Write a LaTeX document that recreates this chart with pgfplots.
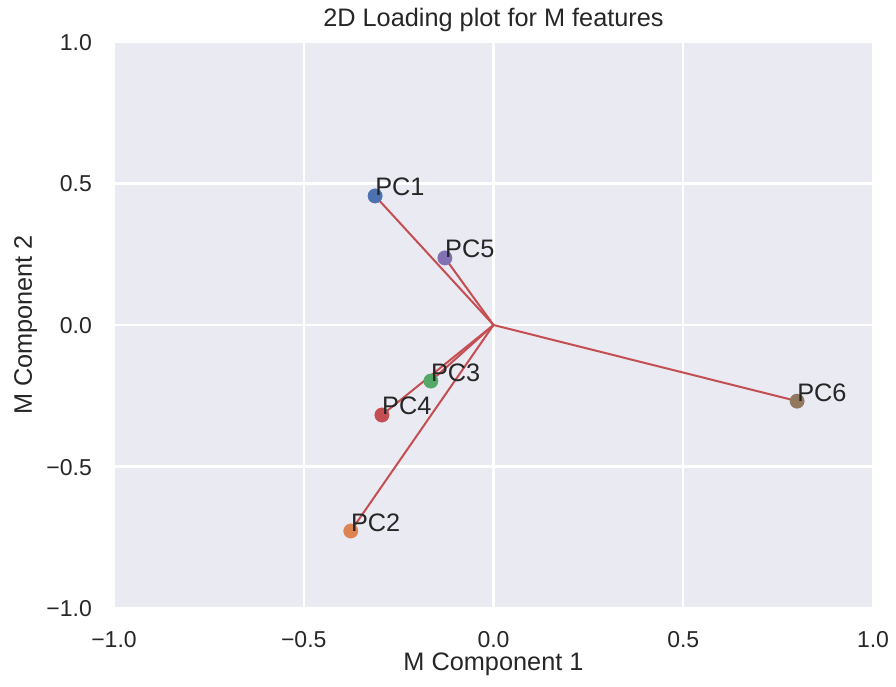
\documentclass[border=0pt]{standalone}
\usepackage{pgfplots}
\pgfplotsset{compat=1.18}
\usepackage{fontspec}
\setmainfont{Liberation Sans}
\usetikzlibrary{arrows.meta}
\definecolor{bg}{HTML}{EAEAF2}
\definecolor{txt}{HTML}{262626}
\definecolor{c0}{HTML}{4C72B0}
\definecolor{c1}{HTML}{DD8452}
\definecolor{c2}{HTML}{55A868}
\definecolor{c3}{HTML}{C44E52}
\definecolor{c4}{HTML}{8172B3}
\definecolor{c5}{HTML}{937860}
\newcommand{\lblfont}{\fontsize{25.3bp}{30bp}\selectfont}
\newcommand{\tckfont}{\fontsize{23bp}{27bp}\selectfont}
\begin{document}
\begin{tikzpicture}[every node/.style={text=txt}]
\useasboundingbox (-114bp,-79bp) rectangle (782bp,608bp);
\begin{axis}[
  at={(0,0)}, anchor=south west,
  scale only axis, width=759bp, height=566bp,
  xmin=-1, xmax=1, ymin=-1, ymax=1,
  axis background/.style={fill=bg},
  axis line style={draw=none},
  major tick length=0pt,
  grid=major, grid style={white, line width=2.2bp},
  xtick={-1,-0.5,0,0.5,1}, ytick={-1,-0.5,0,0.5,1},
  xticklabels={−1.0,−0.5,0.0,0.5,1.0},
  yticklabels={−1.0,−0.5,0.0,0.5,1.0},
  xticklabel style={font=\tckfont, anchor=base, inner sep=0pt, yshift=-39bp},
  yticklabel style={font=\tckfont, anchor=base east, inner sep=0pt, xshift=-22bp, yshift=-8.5bp},
  every axis title shift=0pt,
  title={2D Loading plot for M features},
  title style={font=\lblfont, at={([yshift=15bp]axis description cs:0.5,1)}, anchor=base, inner sep=0pt},
  xlabel={M Component 1}, ylabel={M Component 2},
  xlabel style={font=\lblfont, at={([yshift=-62bp]axis description cs:0.5,0)}, anchor=base, inner sep=0pt},
  ylabel style={font=\lblfont, at={([xshift=-82bp]axis description cs:0,0.5)}, anchor=base, inner sep=0pt, rotate=0},
  clip=false,
]
\addplot[only marks, mark=*, mark size=7.2bp, color=c0] coordinates {(-0.312,0.456)};
\addplot[only marks, mark=*, mark size=7.2bp, color=c1] coordinates {(-0.376,-0.728)};
\addplot[only marks, mark=*, mark size=7.2bp, color=c2] coordinates {(-0.165,-0.198)};
\addplot[only marks, mark=*, mark size=7.2bp, color=c3] coordinates {(-0.294,-0.318)};
\addplot[only marks, mark=*, mark size=7.2bp, color=c4] coordinates {(-0.128,0.237)};
\addplot[only marks, mark=*, mark size=7.2bp, color=c5] coordinates {(0.800,-0.269)};
\foreach \x/\y in {-0.312/0.456, -0.376/-0.728, -0.165/-0.198, -0.294/-0.318, -0.128/0.237, 0.800/-0.269}{
  \edef\tmp{\noexpand\addplot[c3, line width=2bp, -{Stealth[length=6bp,width=4.5bp]}] coordinates {(0,0) (\x,\y)};}
  \tmp
}
\addplot[only marks, mark=none, nodes near coords, point meta=explicit symbolic,
  every node near coord/.style={anchor=base west, inner sep=0pt, text=txt, font=\lblfont}]
  table[meta=label] {
x y label
-0.312 0.456 PC1
-0.376 -0.728 PC2
-0.165 -0.198 PC3
-0.294 -0.318 PC4
-0.128 0.237 PC5
0.800 -0.269 PC6
};
\end{axis}
\end{tikzpicture}
\end{document}
